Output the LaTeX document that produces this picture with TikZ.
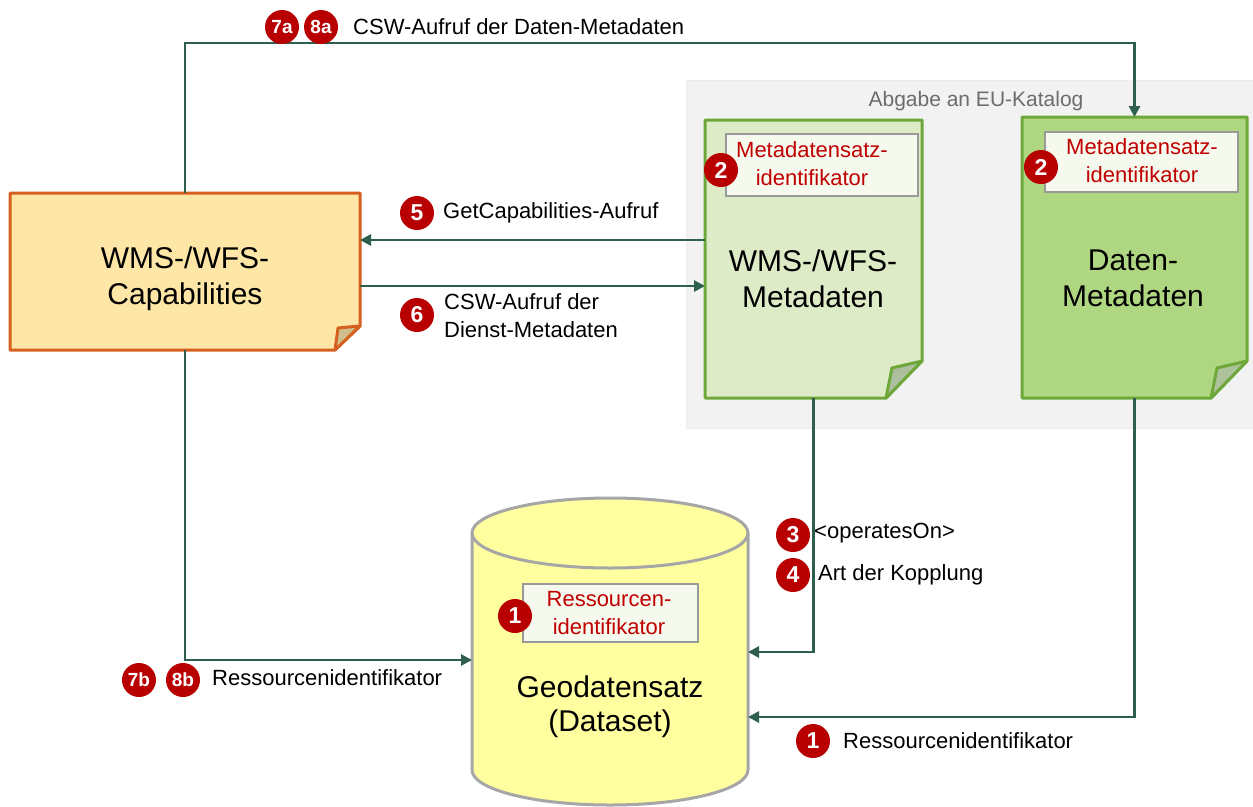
\documentclass[tikz,border=0pt]{standalone}
\usepackage{fontspec}
\setmainfont{Liberation Sans}
\usetikzlibrary{arrows.meta,calc}
\definecolor{connc}{HTML}{2E5E4E}
\definecolor{numred}{HTML}{B80000}
\definecolor{idred}{HTML}{C00000}
\definecolor{capfill}{HTML}{FDE6A6}
\definecolor{capline}{HTML}{D6601F}
\definecolor{capfold}{HTML}{CFBE8A}
\definecolor{wmsfill}{HTML}{DDEBC7}
\definecolor{datfill}{HTML}{AFD681}
\definecolor{docline}{HTML}{6FA83A}
\definecolor{docfold}{HTML}{AEBFA0}
\definecolor{catfill}{HTML}{F2F2F2}
\definecolor{cylfill}{HTML}{FFFFA0}
\definecolor{cylline}{HTML}{A6A6A6}
\definecolor{idfill}{HTML}{F6F9EE}
\tikzset{
  anchorbox/.style={draw=none, inner sep=0pt, outer sep=0pt},
  conn/.style={draw=connc, line width=2.7pt, -{Triangle[length=11pt,width=11pt]}},
  numc/.style={circle, fill=numred, text=white, inner sep=0pt, minimum size=34pt,
    font=\bfseries\fontsize{23}{23}\selectfont},
  numcs/.style={numc, font=\bfseries\fontsize{19}{19}\selectfont},
  lbl/.style={inner sep=0pt, anchor=west, align=left, font=\fontsize{22}{28}\selectfont},
  head/.style={inner sep=0pt, align=center, font=\fontsize{30}{36}\selectfont},
  idtext/.style={inner sep=0pt, align=center, text=idred, font=\fontsize{22}{28}\selectfont},
  idbox/.style={draw=gray!80, fill=idfill, line width=1.5pt, inner sep=0pt},
}
\begin{document}
\begin{tikzpicture}[x=1pt,y=-1pt]
\useasboundingbox (0,0) rectangle (1253,806);
\fill[white] (0,0) rectangle (1253,806);

% catalog region
\node[anchorbox, fill=catfill, draw=gray!15, minimum width=567pt, minimum height=348pt] (catalog) at (969.5,254) {};
\node[inner sep=0pt, text=gray!85!black, font=\fontsize{21}{21}\selectfont] (cattext) at (976,101) {Abgabe an EU-Katalog};

% Capabilities document
\node[anchorbox, minimum width=350pt, minimum height=157pt] (cap) at (185,271.5) {};
\filldraw[fill=capfill, draw=capline, line width=3pt, line join=round]
  (cap.north west) -- (cap.north east) -- ([yshift=24pt]cap.south east)
  -- ([xshift=-25pt]cap.south east) -- (cap.south west) -- cycle;
\filldraw[fill=capfold, draw=capline, line width=3pt, line join=round]
  ([yshift=24pt]cap.south east) -- ([xshift=-22pt,yshift=22pt]cap.south east)
  -- ([xshift=-25pt]cap.south east) -- cycle;
\node[head] (captext) at (185,279) {WMS-/WFS-\\Capabilities};

% WMS metadata document
\node[anchorbox, minimum width=217pt, minimum height=278pt] (wms) at (813.5,259) {};
\filldraw[fill=wmsfill, draw=docline, line width=3pt, line join=round]
  (wms.north west) -- (wms.north east) -- ([yshift=37pt]wms.south east)
  -- ([xshift=-36pt]wms.south east) -- (wms.south west) -- cycle;
\filldraw[fill=docfold, draw=docline, line width=3pt, line join=round]
  ([yshift=37pt]wms.south east) -- ([xshift=-30pt,yshift=30pt]wms.south east)
  -- ([xshift=-36pt]wms.south east) -- cycle;
\node[idbox, minimum width=192pt, minimum height=62pt] (wmsid) at (822,165) {};
\node[idtext] (wmsidtext) at (812,164) {Metadatensatz-\\identifikator};
\node[numc] (n2a) at (721,170) {2};
\node[head] (wmstext) at (813,279) {WMS-/WFS-\\Metadaten};

% Daten metadata document
\node[anchorbox, minimum width=225pt, minimum height=281pt] (daten) at (1134.5,257.5) {};
\filldraw[fill=datfill, draw=docline, line width=3pt, line join=round]
  (daten.north west) -- (daten.north east) -- ([yshift=37pt]daten.south east)
  -- ([xshift=-36pt]daten.south east) -- (daten.south west) -- cycle;
\filldraw[fill=docfold!85!datfill, draw=docline, line width=3pt, line join=round]
  ([yshift=37pt]daten.south east) -- ([xshift=-30pt,yshift=30pt]daten.south east)
  -- ([xshift=-36pt]daten.south east) -- cycle;
\node[idbox, minimum width=193pt, minimum height=60pt] (datid) at (1141.5,162) {};
\node[idtext] (datidtext) at (1142,161) {Metadatensatz-\\identifikator};
\node[numc] (n2b) at (1041,167) {2};
\node[head] (dattext) at (1133,278) {Daten-\\Metadaten};

% Cylinder (dataset)
\node[anchorbox, minimum width=276pt, minimum height=307pt] (cyl) at (610,651.5) {};
\filldraw[fill=cylfill, draw=cylline, line width=3pt]
  ([yshift=-35pt]cyl.north west) -- ([yshift=35pt]cyl.south west)
  arc[start angle=180, end angle=360, x radius=138pt, y radius=35pt]
  -- ([yshift=-35pt]cyl.north east)
  arc[start angle=0, end angle=180, x radius=138pt, y radius=35pt] -- cycle;
\draw[draw=cylline, line width=3pt]
  ([yshift=-35pt]cyl.north west) arc[start angle=180, end angle=360, x radius=138pt, y radius=35pt];
\node[idbox, minimum width=175pt, minimum height=58pt] (cylid) at (610.5,613) {};
\node[idtext] (cylidtext) at (609,613) {Ressourcen-\\identifikator};
\node[numc] (n1a) at (515,616) {1};
\node[head, font=\fontsize{30}{34}\selectfont] (cyltext) at (610,707) {Geodatensatz\\(Dataset)};

% connectors
\coordinate (ytop) at (0,43);
\coordinate (y5) at (0,240);
\coordinate (y6) at (0,286);
\coordinate (y3) at (0,652);
\coordinate (y1) at (0,717);
\coordinate (y7) at (0,660);
\draw[conn] (cap.north) -- (cap.north |- ytop) -- (ytop -| daten.north) -- (daten.north);
\draw[conn] (wms.west |- y5) -- (cap.east |- y5);
\draw[conn] (cap.east |- y6) -- (wms.west |- y6);
\draw[conn] (wms.south) -- (wms.south |- y3) -- (cyl.east |- y3);
\draw[conn] (daten.south) -- (daten.south |- y1) -- (cyl.east |- y1);
\draw[conn] (cap.south) -- (cap.south |- y7) -- (cyl.west |- y7);

% labels
\node[numcs] (n7a) at (282,27) {7a};
\node[numcs] (n8a) at (321,27) {8a};
\node[lbl] (l7a) at (353,27) {CSW-Aufruf der Daten-Metadaten};
\node[numc] (n5) at (417,213) {5};
\node[lbl] (l5) at (443,213) {GetCapabilities-Aufruf};
\node[numc] (n6) at (417,315) {6};
\node[lbl] (l6) at (444,316) {CSW-Aufruf der\\Dienst-Metadaten};
\node[numc] (n3) at (793,535) {3};
\node[lbl] (l3) at (814,533) {<operatesOn>};
\node[numc] (n4) at (793,575) {4};
\node[lbl] (l4) at (818,575) {Art der Kopplung};
\node[numcs] (n7b) at (139,680) {7b};
\node[numcs] (n8b) at (183,680) {8b};
\node[lbl] (l7b) at (212,678) {Ressourcenidentifikator};
\node[numc] (n1b) at (813,741) {1};
\node[lbl] (l1b) at (843,741) {Ressourcenidentifikator};
\end{tikzpicture}
\end{document}
